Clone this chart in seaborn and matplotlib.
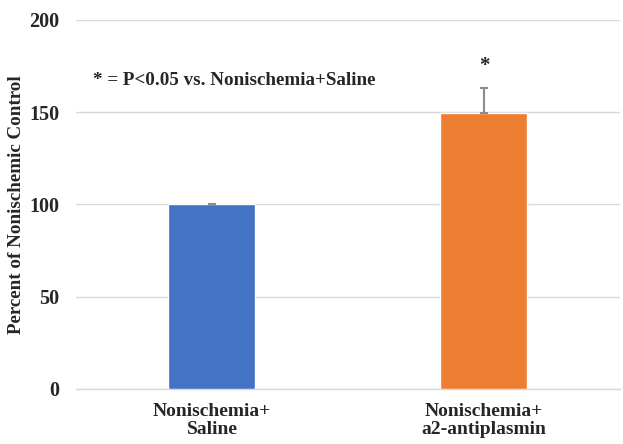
import matplotlib
matplotlib.use("Agg")
import matplotlib.pyplot as plt
import seaborn as sns
import pandas as pd

# Data
groups = ["Nonischemia+\nSaline", "Nonischemia+\na2-antiplasmin"]
percent = [100.0, 149.7]
sem = [0.3, 13.6]
bar_colors = ["#4472C4", "#ED7D31"]
y_ticks = [0, 50, 100, 150, 200]
note = "* = P<0.05 vs. Nonischemia+Saline"

sns.set_theme(style="white")
plt.rcParams["font.family"] = ["Liberation Serif", "DejaVu Serif"]
plt.rcParams["font.weight"] = "bold"

fig = plt.figure(figsize=(6.23, 4.44), dpi=100)
ax = fig.add_axes([0.122, 0.124, 0.873, 0.831])

df = pd.DataFrame({"group": groups, "percent": percent})
sns.barplot(data=df, x="group", y="percent", hue="group", palette=bar_colors,
            width=0.32, errorbar=None, legend=False, ax=ax, zorder=3,
            saturation=1)

xs = range(len(groups))
ax.errorbar(list(xs), percent, yerr=[[0, 0], sem], fmt="none",
            ecolor="#8C8C8C", elinewidth=1.5, capsize=3, capthick=1.5, zorder=4)

# significance marker above the treated group
ax.text(1, percent[1] + sem[1] + 12, "*", ha="center", va="center",
        fontsize=15, fontweight="bold")
ax.text(-0.436, 167, note, ha="left", va="center", fontsize=13.7,
        fontweight="bold")

ax.set_ylim(0, 200)
ax.set_xlim(-0.5, 1.5)
ax.set_yticks(y_ticks)
ax.yaxis.grid(True, color="#D9D9D9", linewidth=1, zorder=0)
ax.set_axisbelow(True)
for s in ["top", "right", "left"]:
    ax.spines[s].set_visible(False)
ax.spines["bottom"].set_color("#D9D9D9")
ax.spines["bottom"].set_linewidth(1)
ax.tick_params(axis="y", length=0, labelsize=14.5, pad=12)
ax.tick_params(axis="x", length=0, labelsize=14, pad=10)
for lbl in ax.get_xticklabels():
    lbl.set_fontweight("bold")
    lbl.set_linespacing(1.1)
for lbl in ax.get_yticklabels():
    lbl.set_fontweight("bold")
ax.set_xlabel("")
ax.set_ylabel("Percent of Nonischemic Control", fontsize=13.7,
              fontweight="bold", labelpad=3)

fig.savefig("out.png", dpi=100)
